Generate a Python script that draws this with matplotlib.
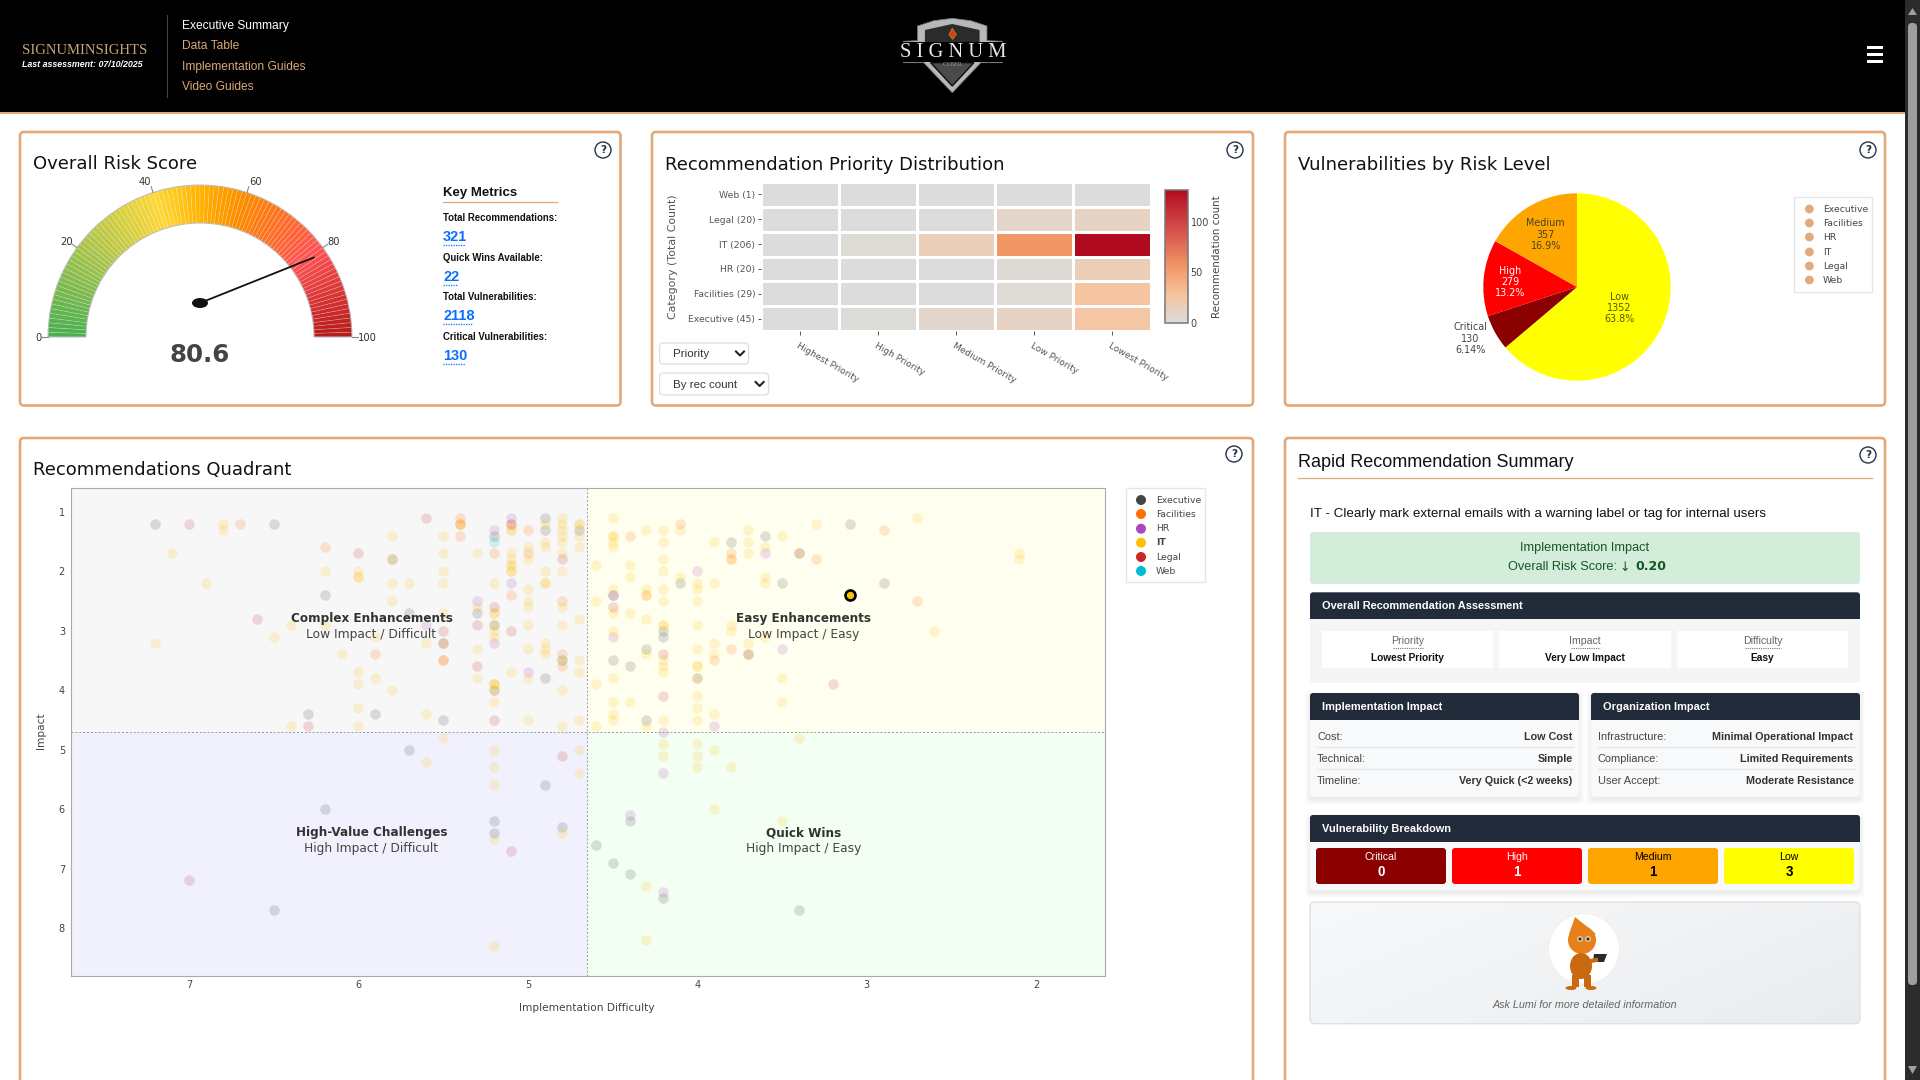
import numpy as np
import matplotlib
matplotlib.use("Agg")
import matplotlib.pyplot as plt
from matplotlib.colors import LinearSegmentedColormap
from matplotlib.patches import FancyBboxPatch, Wedge, Circle, Ellipse, Polygon, Rectangle

W, H = 1920, 1080
TAN = "#e3a877"
NAVY = "#212b3a"
SANS = "Liberation Sans"

# ---------- data ----------
gauge_value = 80.6
gauge_ticks = [0, 20, 40, 60, 80, 100]
gauge_stop_pos = [0, 0.2, 0.4, 0.5, 0.6, 0.8, 1.0]
gauge_stop_col = ["#4caf50", "#a5c34c", "#fdd835", "#ffb300", "#fb8c00", "#ff5252", "#b71c1c"]

metric_labels = ["Total Recommendations:", "Quick Wins Available:", "Total Vulnerabilities:", "Critical Vulnerabilities:"]
metric_values = ["321", "22", "2118", "130"]

heat_rows = ["Executive (45)", "Facilities (29)", "HR (20)", "IT (206)", "Legal (20)", "Web (1)"]
heat_cols = ["Highest Priority", "High Priority", "Medium Priority", "Low Priority", "Lowest Priority"]
heat_exec = [0, 2, 7, 11, 25]
heat_fac = [0, 0, 0, 3, 26]
heat_hr = [0, 0, 0, 4, 16]
heat_it = [0, 3, 15, 56, 132]
heat_legal = [0, 0, 1, 8, 11]
heat_web = [0, 0, 0, 0, 1]

risk_labels = ["Low", "Critical", "High", "Medium"]
risk_values = [1352, 130, 279, 357]
risk_pct = ["63.8%", "6.14%", "13.2%", "16.9%"]
risk_colors = ["#ffff00", "#8b0000", "#ff0000", "#ffa500"]

cats = ["Executive", "Facilities", "HR", "IT", "Legal", "Web"]
cat_colors = ["#444444", "#ff6f00", "#ab47bc", "#ffc107", "#c62828", "#00bcd4"]
exec_pts = [(7.2,1.2),(6.5,1.2),(6.3,4.4),(6.2,2.4),(5.9,4.4),(5.8,1.8),(5.7,2.7),(5.7,5.0),(5.5,3.2),(5.5,4.5),
            (5.3,2.7),(5.2,1.4),(5.2,2.9),(5.2,4.0),(5.2,6.2),(5.2,6.4),(4.9,1.1),(4.9,1.3),(4.9,3.8),(4.9,5.6),
            (4.8,3.5),(4.8,6.3),(4.7,1.3),(6.5,7.7),(6.2,6.0),(4.6,6.6),(4.5,6.9),(4.4,7.1),(4.4,6.2),(4.2,7.5),
            (3.4,7.7),(4.5,2.4),(4.5,3.5),(4.4,3.6),(4.3,3.3),(4.3,4.5),(4.2,3.0),(4.2,3.1),(4.1,2.2),
            (4.0,3.8),(3.8,1.5),(3.7,3.4),(3.6,1.4),(3.5,2.2),(3.4,1.7),(3.1,1.2),(2.9,2.2)]
fac_pts = [(6.7,1.2),(6.2,1.6),(5.9,3.4),(5.5,3.2),(5.5,3.5),(5.5,3.5),(5.4,1.1),(5.4,1.2),(5.4,1.2),(5.4,1.4),
           (5.2,1.7),(5.1,1.2),(5.1,2.4),(5.0,1.3),(5.0,1.7),(4.8,2.5),(4.8,3.4),(4.8,3.6),(4.4,1.4),(4.3,2.4),
           (4.1,1.2),(3.9,3.5),(3.8,1.7),(3.8,1.8),(3.8,3.3),(3.7,3.4),(3.4,1.7),(3.3,1.8),(2.9,1.3),(2.7,2.5)]
hr_pts = [(5.6,2.9),(5.3,2.5),(5.2,1.3),(5.2,3.2),(5.1,1.1),(5.1,2.2),(5.0,3.7),(4.5,2.4),(4.5,3.1),(4.2,4.7),
          (4.2,5.4),(4.4,6.1),(4.2,7.4),(4.0,2.0),(3.9,4.6),(3.6,1.7),(3.5,3.3)]
legal_pts = [(7.0,1.2),(6.6,2.8),(6.3,4.6),(6.0,1.7),(5.6,1.1),(5.5,3.0),(5.3,2.9),(5.3,3.6),(5.2,2.6),(5.2,4.5),
             (5.1,1.2),(5.1,3.0),(4.8,1.8),(4.8,5.1),(5.1,6.7),(7.0,7.2),(4.5,2.6),(4.2,3.4),(4.2,4.1),(3.2,3.9)]
web_pts = [(5.2,1.5)]
it_pts = [(7.2,3.2),(7.1,1.7),(6.9,2.2),(6.8,1.2),(6.8,1.3),(6.5,3.1),(6.4,2.9),(6.4,4.6),(6.2,2.0),(6.2,2.9),(6.1,3.4),
          (6.0,2.0),(6.0,2.1),(6.0,2.1),(6.0,3.7),(6.0,3.9),(6.0,4.3),(6.0,4.6),(5.9,3.1),(5.9,3.8),
          (5.8,1.4),(5.8,1.8),(5.8,2.2),(5.8,2.5),(5.8,4.0),(5.7,2.2),(5.6,3.2),(5.6,4.4),(5.6,5.2),
          (5.5,1.4),(5.5,1.7),(5.5,2.0),(5.5,2.2),(5.5,2.7),(5.5,4.8),(5.4,1.2),(5.3,1.7),(5.3,2.6),(5.3,3.3),(5.3,3.8),
          (5.2,2.2),(5.2,2.7),(5.2,2.7),(5.2,2.9),(5.2,3.0),(5.2,3.1),(5.2,3.9),(5.2,3.9),(5.2,3.9),(5.2,4.0),(5.2,4.2),
          (5.2,5.0),(5.2,5.3),(5.2,5.6),(5.2,6.5),(5.2,8.3),
          (5.1,1.3),(5.1,1.3),(5.1,1.7),(5.1,1.8),(5.1,1.9),(5.1,1.9),(5.1,2.0),(5.1,2.0),(5.1,3.7),
          (5.0,1.6),(5.0,1.8),(5.0,2.3),(5.0,2.5),(5.0,2.6),(5.0,2.9),(5.0,3.3),(5.0,3.8),(5.0,4.5),
          (4.9,1.2),(4.9,1.5),(4.9,1.6),(4.9,2.0),(4.9,2.2),(4.9,2.2),(4.9,3.2),(4.9,3.3),(4.9,3.4),
          (4.8,1.1),(4.8,1.2),(4.8,1.3),(4.8,1.4),(4.8,1.5),(4.8,1.7),(4.8,2.0),(4.8,2.6),(4.8,2.9),(4.8,3.5),(4.8,4.0),(4.8,4.6),(4.8,6.4),
          (4.7,1.2),(4.7,1.2),(4.7,1.4),(4.7,1.6),(4.7,2.8),(4.7,3.5),(4.7,3.7),(4.7,4.5),(4.7,5.0),(4.7,5.4),
          (4.6,1.9),(4.6,2.5),(4.6,3.9),(4.6,4.6),
          (4.5,1.1),(4.5,1.4),(4.5,1.4),(4.5,1.5),(4.5,1.6),(4.5,2.3),(4.5,2.7),(4.5,3.0),(4.5,3.8),(4.5,4.2),(4.5,4.4),(4.5,4.5),
          (4.4,1.9),(4.4,2.1),(4.4,2.7),(4.4,4.2),(4.3,1.3),(4.3,2.3),(4.3,2.4),(4.3,2.8),(4.3,3.4),(4.3,4.6),(4.3,7.3),(4.3,8.2),
          (4.2,1.3),(4.2,1.5),(4.2,1.8),(4.2,2.0),(4.2,2.3),(4.2,2.5),(4.2,2.9),(4.2,2.9),(4.2,3.5),(4.2,3.6),(4.2,3.7),(4.2,4.5),(4.2,4.9),(4.2,5.1),
          (4.1,1.3),(4.1,2.1),(4.0,2.2),(4.0,2.3),(4.0,2.5),(4.0,2.9),(4.0,3.3),(4.0,3.6),(4.0,3.6),(4.0,3.8),(4.0,4.1),(4.0,4.3),(4.0,4.5),(4.0,4.9),(4.0,5.1),(4.0,5.3),
          (3.9,1.5),(3.9,2.2),(3.9,3.2),(3.9,3.4),(3.9,4.4),(3.9,5.0),(3.9,6.0),(3.8,1.8),(3.8,2.9),(3.8,3.0),(3.8,5.3),
          (3.7,1.3),(3.7,1.5),(3.7,1.7),(3.7,3.2),(3.6,1.6),(3.6,2.1),(3.6,2.2),(3.6,3.1),(3.5,1.4),(3.5,3.8),(3.5,4.2),(3.5,6.2),
          (3.4,4.8),(3.3,1.2),(2.7,1.1),(2.6,3.0),(2.1,1.7),(2.1,1.8)]
selected_pt = (3.1, 2.4)
split_difficulty = 4.65
split_impact = 4.7

# ---------- canvas ----------
fig = plt.figure(figsize=(W / 100, H / 100), dpi=100, facecolor="white")

def rect_axes(x0, y0, x1, y1, **kw):
    return fig.add_axes([x0 / W, 1 - y1 / H, (x1 - x0) / W, (y1 - y0) / H], **kw)

bg = rect_axes(0, 0, W, H, zorder=0)
fg = rect_axes(0, 0, W, H, zorder=5)
for a in (bg, fg):
    a.set_xlim(0, W)
    a.set_ylim(H, 0)
    a.axis("off")
fg.patch.set_alpha(0)

def T(x, y, s, px=12, color="#222222", family=SANS, ha="left", va="center", **kw):
    return fg.text(x, y + 1.2, s, fontsize=px * 0.72, color=color, family=family, ha=ha, va=va, **kw)

def box(ax, x0, y0, x1, y1, fc="white", ec="none", lw=0, r=3, z=1, alpha=None):
    p = FancyBboxPatch((x0 + r, y0 + r), x1 - x0 - 2 * r, y1 - y0 - 2 * r,
                       boxstyle=f"round,pad={r},rounding_size={r}", fc=fc, ec=ec, lw=lw, zorder=z, alpha=alpha)
    ax.add_patch(p)
    return p

def shadow(x0, y0, x1, y1):
    for i in range(6):
        box(bg, x0 - i, y0 + 3 - i, x1 + i, y1 + 3 + i, fc="#000000", r=4, z=1.5, alpha=0.012)

def help_icon(x, y):
    fg.add_patch(Circle((x, y), 8, fc="white", ec="#26324a", lw=1))
    T(x, y - 1, "?", 10.5, "#26324a", family="DejaVu Sans", ha="center", fontweight="bold")

# ---------- header ----------
bg.add_patch(Rectangle((0, 0), 1905, 112, fc="black", zorder=1))
bg.add_patch(Rectangle((0, 112), 1905, 1.6, fc=TAN, zorder=1))
T(22, 49.5, "SIGNUMINSIGHTS", 14.7, "#c9a27a", family="Liberation Serif")
T(22, 63, "Last assessment: 07/10/2025", 8.9, "white", style="italic", fontweight="bold")
fg.plot([166.5, 166.5], [15, 97], color="#444444", lw=0.8)
for yy, s, c in [(25, "Executive Summary", "white"), (45, "Data Table", "#d9a878"),
                 (66, "Implementation Guides", "#d9a878"), (86, "Video Guides", "#d9a878")]:
    T(181.6, yy, s, 12, c)

# logo
sx = lambda z: 640 + z / 2.45
outer = [(680, 78), (720, 62), (765, 55), (810, 62), (850, 78), (850, 122), (888, 124), (888, 188), (835, 188), (765, 278),
         (695, 188), (645, 188), (645, 124), (680, 122)]
fg.add_patch(Polygon([(sx(a), b / 3) for a, b in outer], fc="#b8b8b8", ec="#777777", lw=0.6))
inner = [(698, 90), (765, 72), (832, 90), (832, 135), (698, 135)]
fg.add_patch(Polygon([(sx(a), b / 3) for a, b in inner], fc="#2b2b2b", ec="none"))
fg.add_patch(Rectangle((sx(620), 125 / 3), sx(910) - sx(620), 60 / 3, fc="black"))
lower = [(712, 188), (818, 188), (765, 258)]
fg.add_patch(Polygon([(sx(a), b / 3) for a, b in lower], fc="#4a4a4a", ec="#0c0c0c", lw=1))
flame = [(765, 85), (775, 103), (766, 118), (757, 104)]
fg.add_patch(Polygon([(sx(a), b / 3) for a, b in flame], fc="#c8401a", ec="#e88a20", lw=0.5))
T(953.5, 51, "S I G N U M", 20.5, "#e8e8e8", family="Liberation Serif", ha="center")
T(952.5, 63, "CYBER", 6, "#9a9a9a", family="Liberation Serif", ha="center")

for yy in (47.5, 54.5, 61.5):
    fg.add_patch(Rectangle((1866.5, yy - 1.3), 16.5, 2.6, fc="white", ec="none"))

# scrollbar
bg.add_patch(Rectangle((1905, 0), 15, H, fc="#2b2b2b", zorder=1))
box(fg, 1908, 23, 1917, 985, fc="#9e9e9e", r=4)
fg.add_patch(Polygon([(1908, 15), (1917, 15), (1912.5, 8)], fc="#9e9e9e"))
fg.add_patch(Polygon([(1908, 1066), (1917, 1066), (1912.5, 1074)], fc="#9e9e9e"))

# cards
for x0, y0, x1, y1 in [(20, 132, 620.5, 405.5), (652, 132, 1253, 405.5), (1285, 132, 1885, 405.5),
                       (20, 438, 1253, 1110), (1285, 438, 1885, 1110)]:
    box(bg, x0, y0, x1, y1, fc="white", ec=TAN, lw=1.9, r=4)
help_icon(603, 150); help_icon(1235, 150); help_icon(1868, 150); help_icon(1234, 454); help_icon(1868, 455)

T(33, 162.5, "Overall Risk Score", 18, "#111111", family="DejaVu Sans")
T(665.2, 163.5, "Recommendation Priority Distribution", 18, "#111111", family="DejaVu Sans")
T(1298, 163.5, "Vulnerabilities by Risk Level", 18, "#111111", family="DejaVu Sans")
T(33.3, 468.5, "Recommendations Quadrant", 18, "#111111", family="DejaVu Sans")

# ---------- gauge ----------
g = rect_axes(40, 177, 360, 345, zorder=2)
g.set_xlim(-160, 160)
g.set_ylim(-8, 160)
g.axis("off")
gcmap = LinearSegmentedColormap.from_list("gauge", list(zip(gauge_stop_pos, gauge_stop_col)))
val2ang = lambda v: 180 - 1.8 * v
for v in range(100):
    g.add_patch(Wedge((0, 0), 152, val2ang(v + 1), val2ang(v), width=38, fc=gcmap(v / 99),
                      ec=(1, 1, 1, 0.22), lw=0.5))
g.add_patch(Wedge((0, 0), 152, 0, 180, width=38, fc="none", ec="#bbbbbb", lw=0.7))
label_dx = [3, -1, -4.5, 4.5, 1, 3]
for v, dx in zip(gauge_ticks, label_dx):
    th = np.deg2rad(val2ang(v))
    g.plot([152 * np.cos(th), 158 * np.cos(th)], [152 * np.sin(th), 158 * np.sin(th)], color="#888888", lw=0.8, clip_on=False)
    g.text(164 * np.cos(th) + dx, 164 * np.sin(th) - 1, str(v), fontsize=7.2, color="#333333", family="DejaVu Sans",
           ha="center", va="center", clip_on=False)
th = np.deg2rad(val2ang(gauge_value))
g.plot([0, 139 * np.cos(th)], [34, 139 * np.sin(th)], color="#111111", lw=1.3, solid_capstyle="round")
g.add_patch(Ellipse((0, 34), 16, 10, fc="#111111", ec="none", zorder=4))
T(200, 354, f"{gauge_value}", 24.5, "#444444", family="DejaVu Sans", ha="center", fontweight="bold")

# key metrics
T(443, 192, "Key Metrics", 13.2, "#111111", fontweight="bold")
fg.plot([443, 557], [201.5, 201.5], color=TAN, lw=0.9)
for lab, val, yl, yv, w in zip(metric_labels, metric_values, [217, 257, 296, 336], [236, 276, 315, 355], [22, 15, 29, 22]):
    T(443, yl, lab, 9.6, "#111111", fontweight="bold")
    T(443, yv, val, 14.5, "#0d6efd", fontweight="bold")
    fg.plot([443, 443 + w], [yv + 8.5, yv + 8.5], color="#0d6efd", lw=0.9, ls=(0, (1, 1)))

# ---------- heatmap ----------
hm = rect_axes(760.8, 182, 1150.6, 331, zorder=2)
hcmap = LinearSegmentedColormap.from_list("heat", [(0, "#dcdcdc"), (0.2, "#f5c5a0"), (0.42, "#f29766"),
                                                   (0.7, "#d6504a"), (1, "#b00a1e")])
heat_matrix = np.array([heat_exec, heat_fac, heat_hr, heat_it, heat_legal, heat_web])
mesh = hm.pcolormesh(heat_matrix, cmap=hcmap, vmin=0, vmax=132, edgecolors="white", linewidth=0.9)
for s in hm.spines.values():
    s.set_visible(False)
hm.set_xticks(np.arange(5) + 0.5)
hm.set_xticklabels(heat_cols, rotation=-30, ha="left", rotation_mode="anchor", fontsize=6.5,
                   color="#555555", family="DejaVu Sans")
hm.set_yticks(np.arange(6) + 0.5)
hm.set_yticklabels(heat_rows, fontsize=6.7, color="#555555", family="DejaVu Sans")
hm.tick_params(axis="x", length=3, width=0.7, color="#555555", pad=4)
hm.tick_params(axis="y", length=2, width=0.7, color="#555555", pad=2)
cax = rect_axes(1165, 189.5, 1188, 323, zorder=2)
cb = fig.colorbar(mesh, cax=cax, ticks=[0, 50, 100])
cb.outline.set_edgecolor("#777777")
cb.outline.set_linewidth(1.1)
cax.tick_params(length=0, labelsize=6.9, labelcolor="#444444", pad=2)
T(672.5, 255, "Category (Total Count)", 10.95, "#555555", family="DejaVu Sans", rotation=90, ha="center")
T(1217.5, 255, "Recommendation count", 10.3, "#444444", family="DejaVu Sans", rotation=90, ha="center")

for x0, x1, y0, y1, s, cx in [(659.6, 748.6, 343, 364, "Priority", 740), (659.6, 768.6, 373, 395, "By rec count", 759.6)]:
    box(fg, x0, y0, x1, y1, fc="white", ec="#dddddd", lw=0.9, r=4)
    T(672.6, (y0 + y1) / 2 - 0.5, s, 11.5, "#333333")
    cy = (y0 + y1) / 2
    fg.plot([cx - 4, cx, cx + 4], [cy - 2, cy + 2, cy - 2], color="#222222", lw=1.5)

# ---------- pie ----------
p = rect_axes(1577 - 93.7, 287 - 93.7, 1577 + 93.7, 287 + 93.7, zorder=2)
p.pie(risk_values, colors=risk_colors, startangle=90, counterclock=False, radius=1, normalize=True,
      wedgeprops=dict(lw=0))
p.set_xlim(-1, 1)
p.set_ylim(-1, 1)
for lab, val, pct, (xx, yy), col in zip(risk_labels, risk_values, risk_pct,
                                        [(1619.6, 307), (1470.6, 338), (1510, 281.5), (1545.7, 234)],
                                        ["#555511", "#444444", "white", "#444422"]):
    T(xx, yy - 0.5, f"{lab}\n{val}\n{pct}", 9.7, col, family="DejaVu Sans", ha="center", linespacing=1.15)

def legend_box(x0, y0, x1, y1, names, colors, ys, mx, tx, r, bold_it=False):
    fg.add_patch(Rectangle((x0, y0), x1 - x0, y1 - y0, fc="white", ec="#e6e6e6", lw=1))
    for n, c, yy in zip(names, colors, ys):
        fg.add_patch(Circle((mx, yy), r, fc=c, ec="none"))
        T(tx, yy - 1, n, 9.3, "#444444", family="DejaVu Sans", fontweight="bold" if (bold_it and n == "IT") else "normal")

legend_box(1793.5, 197, 1871.5, 292, cats, ["#e3ab7c"] * 6, [209, 223, 237, 252, 266, 280], 1809.4, 1823, 4.4)

# ---------- quadrant ----------
q = rect_axes(70.5, 488, 1105, 976, zorder=2)
xl, xr, yb, yt = 7.70, 1.593, 8.807, 0.60
q.set_xlim(xl, xr)
q.set_ylim(yb, yt)
q.add_patch(Rectangle((split_difficulty, yt), xl - split_difficulty, split_impact - yt, fc="#f7f7f7", zorder=0))
q.add_patch(Rectangle((xr, yt), split_difficulty - xr, split_impact - yt, fc="#fffff0", zorder=0))
q.add_patch(Rectangle((split_difficulty, split_impact), xl - split_difficulty, yb - split_impact, fc="#f1f1fd", zorder=0))
q.add_patch(Rectangle((xr, split_impact), split_difficulty - xr, yb - split_impact, fc="#f2fff2", zorder=0))
q.axvline(split_difficulty, color="#999999", lw=0.7, ls=(0, (2, 2)), zorder=1)
q.axhline(split_impact, color="#999999", lw=0.7, ls=(0, (2, 2)), zorder=1)
all_pts = [exec_pts, fac_pts, hr_pts, it_pts, legal_pts, web_pts]
for pts, c in zip(all_pts, cat_colors):
    arr = np.array(pts)
    q.scatter(arr[:, 0], arr[:, 1], s=58, c=c, alpha=0.17, linewidths=0, zorder=2)
q.scatter([selected_pt[0]], [selected_pt[1]], s=52, c=cat_colors[3], edgecolors="black", linewidths=1.9, zorder=3)
q.set_xticks([7, 6, 5, 4, 3, 2])
q.set_yticks([1, 2, 3, 4, 5, 6, 7, 8])
q.tick_params(length=0, labelsize=7.0, labelcolor="#444444", pad=4)
q.tick_params(axis="x", pad=3)
for lbl in q.get_xticklabels() + q.get_yticklabels():
    lbl.set_family("DejaVu Sans")
for s in q.spines.values():
    s.set_color("#aaaaaa")
    s.set_linewidth(0.8)
q.set_ylabel("Impact", fontsize=7.6, color="#444444", family="DejaVu Sans")
q.yaxis.set_label_coords((46 - 70.5) / (1105 - 70.5), (976 - 731) / 488)
q.set_xlabel("Implementation Difficulty", fontsize=7.6, color="#444444", family="DejaVu Sans")
q.xaxis.set_label_coords((587 - 70.5) / (1105 - 70.5), -(1008 - 976) / 488)
q.xaxis.label.set_va("center")
for cx, cy, a, b in [(371.5, 617.5, "Complex Enhancements", "Low Impact / Difficult"),
                     (803.7, 617.5, "Easy Enhancements", "Low Impact / Easy"),
                     (371.5, 831.5, "High-Value Challenges", "High Impact / Difficult"),
                     (803.7, 831.5, "Quick Wins", "High Impact / Easy")]:
    T(cx, cy, a, 12, "#333333", family="DejaVu Sans", ha="center", fontweight="bold")
    T(cx, cy + 15.5, b, 12.2, "#444444", family="DejaVu Sans", ha="center")
legend_box(1125.7, 488, 1204.5, 582, cats, cat_colors, [500, 514, 528.7, 542.7, 557, 571], 1141, 1156, 5, bold_it=True)

# ---------- summary panel ----------
T(1298, 461.5, "Rapid Recommendation Summary", 18, "#111111", family="Liberation Sans")
bg.plot([1298, 1872], [478, 478], color=TAN, lw=0.9, zorder=2)
T(1310, 512.5, "IT - Clearly mark external emails with a warning label or tag for internal users", 13.4, "#111111")
box(bg, 1310, 532, 1860, 584, fc="#d4edda", r=3, z=2)
T(1585, 546.7, "Implementation Impact", 12.8, "#155724", ha="center")
T(1617.5, 565.7, "Overall Risk Score:", 12.8, "#155724", ha="right")
T(1624.5, 566.5, "↓", 12.5, "#155724", family="DejaVu Sans", ha="center")
T(1635, 565.7, "0.20", 12.5, "#155724", family="DejaVu Sans", fontweight="bold")

def dark_head(x0, x1, y0, y1, s):
    bg.add_patch(Rectangle((x0, y0 + 3), x1 - x0, y1 - y0 - 3, fc=NAVY, ec="none", zorder=3))
    box(bg, x0, y0, x1, y0 + 10, fc=NAVY, r=3, z=3)
    T(x0 + 12, (y0 + y1) / 2 - 1, s, 11, "white", fontweight="bold")

box(bg, 1310, 600, 1860, 683, fc="#f5f5f5", r=4, z=2)
dark_head(1310, 1860, 592.3, 619, "Overall Recommendation Assessment")
for x0, x1, a, b, w in [(1322, 1493, "Priority", "Lowest Priority", 30), (1499, 1671, "Impact", "Very Low Impact", 29),
                        (1677, 1848, "Difficulty", "Easy", 36)]:
    bg.add_patch(Rectangle((x0, 631), x1 - x0, 37, fc="white", zorder=3))
    cx = (x0 + x1) / 2
    T(cx, 640, a, 10.5, "#666666", ha="center")
    fg.plot([cx - w / 2, cx + w / 2], [648, 648], color="#777777", lw=0.8, ls=(0, (1, 1)))
    T(cx, 657, b, 10.1, "#111111", ha="center", fontweight="bold")

for x0, x1, head, rows in [(1310, 1579, "Implementation Impact",
                            [("Cost:", "Low Cost"), ("Technical:", "Simple"), ("Timeline:", "Very Quick (<2 weeks)")]),
                           (1591, 1860, "Organization Impact",
                            [("Infrastructure:", "Minimal Operational Impact"), ("Compliance:", "Limited Requirements"),
                             ("User Accept:", "Moderate Resistance")])]:
    shadow(x0, 693, x1, 796.7)
    box(bg, x0, 700, x1, 796.7, fc="#f8f9fa", r=4, z=2)
    dark_head(x0, x1, 693, 720, head)
    for yy, (a, b) in zip([736, 758, 780], rows):
        T(x0 + 7, yy - 0.5, a, 11, "#444444")
        T(x1 - 6.5, yy - 0.5, b, 10.7, "#333333", ha="right", fontweight="bold")
    for yy in (747.3, 769.3):
        bg.plot([x0 + 7, x1 - 6.5], [yy, yy], color="#e2e4e8", lw=0.9, zorder=3)

shadow(1310, 815, 1860, 890)
box(bg, 1310, 825, 1860, 890, fc="#f8f9fa", r=4, z=2)
dark_head(1310, 1860, 815, 842, "Vulnerability Breakdown")
for x0, x1, a, b, fc, tc in [(1316, 1446, "Critical", "0", "#8b0000", "white"), (1452, 1582, "High", "1", "#ff0000", "white"),
                             (1588, 1718, "Medium", "1", "#ffa500", "black"), (1724, 1854, "Low", "3", "#ffff00", "black")]:
    box(bg, x0, 848, x1, 884, fc=fc, r=3, z=3)
    T((x0 + x1) / 2, 856, a, 10.5, tc, ha="center")
    T((x0 + x1) / 2, 871, b, 13.5, tc, ha="center", fontweight="bold")

# Lumi card
lp = box(bg, 1310, 902, 1860, 1023.7, fc="none", ec="#dee2e6", lw=1, r=5, z=3)
grad = np.linspace(0, 1, 200)[None, :] * 0.65 + np.linspace(0, 1, 60)[:, None] * 0.35
im = bg.imshow(grad, extent=(1310, 1860, 1023.7, 902), cmap=LinearSegmentedColormap.from_list("g", ["#f8f9fa", "#e9ecef"]),
               aspect="auto", zorder=2)
im.set_clip_path(lp)
bg.set_xlim(0, W)
bg.set_ylim(H, 0)
fg.add_patch(Circle((1584, 949), 35.5, fc="white", ec="#f6efe8", lw=0.8))
o1, o2 = "#e8801a", "#c96a10"
fg.add_patch(Polygon([(1575, 917), (1569, 934), (1596, 934), (1585, 925)], fc=o1))
fg.add_patch(Ellipse((1582, 940), 28, 28, fc=o1))
fg.add_patch(Ellipse((1581, 966), 22, 26, fc=o2))
fg.add_patch(Rectangle((1572, 975), 7, 12, fc=o2))
fg.add_patch(Rectangle((1584, 975), 7, 12, fc=o2))
fg.add_patch(Ellipse((1571, 988), 11, 4, fc=o2))
fg.add_patch(Ellipse((1591, 988), 11, 4, fc=o2))
fg.add_patch(Circle((1580, 939), 3, fc="#d8c8a8")); fg.add_patch(Circle((1588, 939), 3, fc="#d8c8a8"))
fg.add_patch(Circle((1580, 939), 1.4, fc="#222222")); fg.add_patch(Circle((1588, 939), 1.4, fc="#222222"))
fg.add_patch(Polygon([(1594, 954), (1607, 954), (1604, 962), (1593, 962)], fc="#2a2a2a"))
fg.plot([1586, 1596], [962, 960], color=o2, lw=3)
T(1585, 1003.5, "Ask Lumi for more detailed information", 10.8, "#666666", ha="center", style="italic")

fig.savefig("out.png", dpi=100, facecolor="white")
